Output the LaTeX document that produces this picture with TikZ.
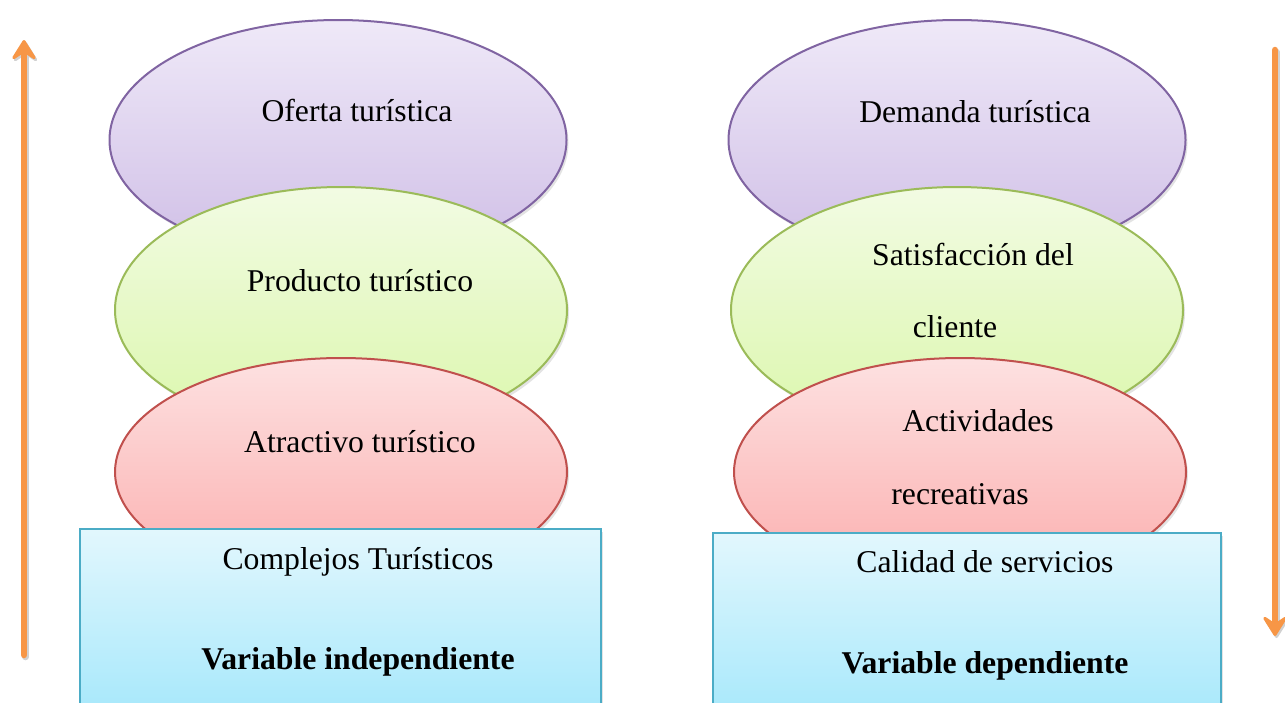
\documentclass[tikz,border=0pt]{standalone}
\usepackage{fontspec}
\setmainfont{Liberation Serif}
\usetikzlibrary{shapes.geometric,arrows.meta,shadows}
\definecolor{pTop}{HTML}{EFE9F8}
\definecolor{pBot}{HTML}{CFBEE6}
\definecolor{pLine}{HTML}{8064A2}
\definecolor{gTop}{HTML}{F2FBE3}
\definecolor{gBot}{HTML}{DBF7AC}
\definecolor{gLine}{HTML}{9BBB59}
\definecolor{rTop}{HTML}{FDE1E1}
\definecolor{rBot}{HTML}{FBADAD}
\definecolor{rLine}{HTML}{C0504D}
\definecolor{bTop}{HTML}{E2F7FD}
\definecolor{bBot}{HTML}{A2E7FB}
\definecolor{bLine}{HTML}{4BACC6}
\definecolor{arrowOrange}{HTML}{F79646}
\begin{document}
\begin{tikzpicture}[x=1pt,y=-1pt,
  shade/.style={drop shadow={opacity=0.22,shadow xshift=2pt,shadow yshift=-3pt}},
  ell/.style={ellipse, draw, line width=2pt, inner sep=0pt, shade},
  purpleell/.style={ell, draw=pLine, top color=pTop, bottom color=pBot, minimum width=457pt, minimum height=240pt},
  greenell/.style={ell, draw=gLine, top color=gTop, bottom color=gBot, minimum width=452pt, minimum height=246pt},
  redell/.style={ell, draw=rLine, top color=rTop, bottom color=rBot, minimum width=452pt, minimum height=228pt},
  varbox/.style={rectangle, draw=bLine, line width=2pt, top color=bTop, bottom color=bBot, inner sep=0pt, shade},
  txt/.style={font=\fontsize{31.7}{38}\selectfont, inner sep=0pt, anchor=base},
  bold/.style={txt, font=\fontsize{31.7}{38}\selectfont\bfseries},
  arrowshadow/.style={draw=black!18, line width=6.5pt, line cap=round,
    -{Stealth[length=24pt,width=30pt,inset=10pt,round,line width=3pt]}},
  vararrow/.style={draw=arrowOrange, line width=6.5pt, line cap=round,
    -{Stealth[length=24pt,width=30pt,inset=10pt,round,line width=3pt]}}
]
\clip (0,0) rectangle (1285,702);
\fill[white] (0,0) rectangle (1285,702);

% left column
\node[purpleell] (oferta) at (338,140) {};
\node[greenell] (producto) at (341,310) {};
\node[redell] (atractivo) at (341,472) {};
\node[varbox, minimum width=521pt, minimum height=200pt, anchor=north west] (complejos) at (79,528) {};

% right column
\node[purpleell] (demanda) at (957,140) {};
\node[greenell] (satisf) at (957,310) {};
\node[redell] (activ) at (960,472) {};
\node[varbox, minimum width=508pt, minimum height=200pt, anchor=north west] (calidad) at (712,532) {};

% texts
\node[txt] (toferta) at (357,121) {Oferta turística};
\node[txt] (tproducto) at (360,291) {Producto turístico};
\node[txt] (tatractivo) at (360,452) {Atractivo turístico};
\node[txt] (tcomplejos) at (358,569) {Complejos Turísticos};
\node[bold] (tvi) at (358,669) {Variable independiente};

\node[txt] (tdemanda) at (975,122) {Demanda turística};
\node[txt] (tsatisf) at (973,265) {Satisfacción del};
\node[txt] (tcliente) at (955,337) {cliente};
\node[txt] (tactiv) at (978,431) {Actividades};
\node[txt] (trecre) at (960,504) {recreativas};
\node[txt] (tcalidad) at (985,572) {Calidad de servicios};
\node[bold] (tvd) at (985,673) {Variable dependiente};

% arrows
\coordinate (lbot) at (24,655);
\coordinate (ltop) at (24,40);
\coordinate (rtop) at (1275,50);
\coordinate (rbot) at (1275,636);
\path[arrowshadow, transform canvas={xshift=1.5pt,yshift=-2pt}] (lbot) -- (ltop);
\path[arrowshadow, transform canvas={xshift=1.5pt,yshift=-2pt}] (rtop) -- (rbot);
\path[vararrow] (lbot) -- (ltop);
\path[vararrow] (rtop) -- (rbot);
\end{tikzpicture}
\end{document}
